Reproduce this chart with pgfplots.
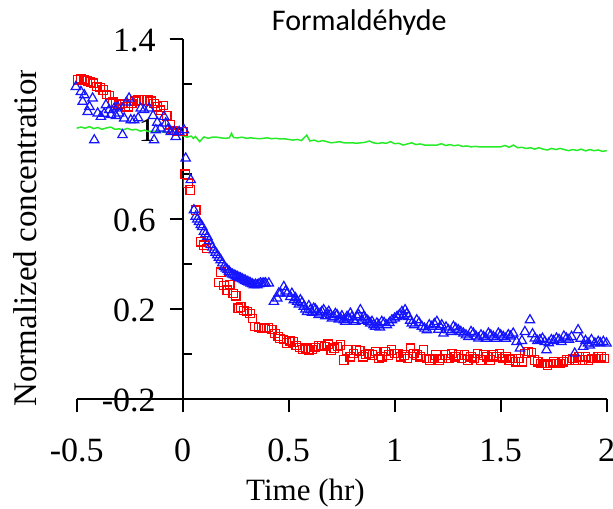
\documentclass[border=0pt]{standalone}
\usepackage{pgfplots}
\pgfplotsset{compat=1.18}
\usepackage{fontspec}
\setmainfont{Liberation Serif}
\newfontfamily\titlefont{Carlito}
\definecolor{ltgreen}{RGB}{40,235,40}
\definecolor{mkred}{RGB}{255,0,0}
\definecolor{mkblue}{RGB}{20,20,255}

\begin{document}
\begin{tikzpicture}
\begin{axis}[
  scale only axis, width=265pt, height=180pt,
  xmin=-0.5, xmax=2, ymin=-0.2, ymax=1.4,
  axis x line=bottom, axis y line=center,
  axis line style={-, line width=1pt},
  hide obscured x ticks=false, hide obscured y ticks=false,
  xtick={-0.5,0,0.5,1,1.5,2},
  xticklabels={\textrm{-0.5},\textrm{0},\textrm{0.5},\textrm{1},\textrm{1.5},\textrm{2}},
  ytick={-0.2,0.2,0.6,1,1.4},
  yticklabels={\textrm{-0.2},\textrm{0.2},\textrm{0.6},\textrm{1},\textrm{1.4}},
  minor ytick={0,0.4,0.8,1.2},
  tick align=outside, major tick length=6.5pt, minor tick length=4.5pt,
  tick style={line width=1pt, black},
  minor y tick style={xshift=4.5pt},
  ticklabel style={font=\fontsize{17}{20}\selectfont},
  xticklabel style={yshift=-10pt},
  yticklabel style={xshift=-3.5pt, yshift=-0.5pt},
  clip=false,
]
% reference (green)
\addplot[ltgreen, line width=0.75pt, no marks] coordinates {
(-0.5,1.005)(-0.48,1.01)(-0.46,1.005)(-0.44,1.012)(-0.42,1.003)(-0.40,1.008)(-0.38,1.0)(-0.36,1.006)(-0.34,1.01)(-0.32,1.0)
(-0.30,1.002)(-0.28,0.998)(-0.26,1.004)(-0.24,0.997)(-0.22,1.0)(-0.20,0.992)(-0.18,0.996)(-0.16,0.99)(-0.14,0.993)(-0.12,0.988)
(-0.10,0.99)(-0.08,0.985)(-0.06,0.98)(-0.04,0.983)(-0.02,0.975)(0,0.972)(0.02,0.965)(0.04,0.97)(0.05,0.96)(0.06,0.968)
(0.08,0.945)(0.10,0.966)(0.12,0.96)(0.14,0.965)(0.16,0.965)(0.18,0.962)(0.20,0.96)(0.22,0.962)(0.23,0.982)(0.24,0.963)
(0.26,0.962)(0.28,0.965)(0.30,0.96)(0.32,0.962)(0.34,0.96)(0.36,0.958)(0.38,0.96)(0.40,0.962)(0.42,0.958)(0.44,0.96)
(0.46,0.957)(0.48,0.958)(0.50,0.955)(0.52,0.952)(0.54,0.955)(0.56,0.95)(0.585,0.974)(0.60,0.948)(0.62,0.952)(0.64,0.945)
(0.66,0.95)(0.68,0.945)(0.70,0.94)(0.72,0.942)(0.74,0.945)(0.76,0.94)(0.78,0.94)(0.80,0.94)(0.82,0.938)(0.84,0.94)
(0.86,0.942)(0.88,0.948)(0.90,0.94)(0.92,0.937)(0.94,0.94)(0.96,0.938)(0.98,0.945)(1.0,0.936)(1.02,0.938)(1.04,0.93)
(1.06,0.935)(1.08,0.94)(1.10,0.932)(1.12,0.935)(1.14,0.93)(1.16,0.93)(1.18,0.93)(1.20,0.93)(1.22,0.936)(1.24,0.928)
(1.26,0.932)(1.28,0.927)(1.30,0.93)(1.32,0.924)(1.34,0.926)(1.36,0.922)(1.38,0.924)(1.40,0.922)(1.42,0.922)(1.44,0.922)
(1.46,0.922)(1.48,0.922)(1.50,0.922)(1.52,0.928)(1.54,0.92)(1.56,0.93)(1.58,0.918)(1.60,0.92)(1.62,0.915)(1.64,0.918)
(1.66,0.912)(1.68,0.918)(1.70,0.912)(1.72,0.908)(1.74,0.915)(1.76,0.91)(1.78,0.915)(1.80,0.91)(1.82,0.905)(1.84,0.91)
(1.86,0.906)(1.88,0.912)(1.90,0.904)(1.92,0.91)(1.94,0.905)(1.96,0.908)(1.98,0.902)(2.0,0.905)
};
% red squares
\addplot[only marks, mark=square, mark size=2.1pt, mark options={mkred, line width=0.6pt}] coordinates {
(-0.495,1.22)(-0.48,1.225)(-0.465,1.22)(-0.45,1.215)(-0.435,1.21)(-0.42,1.205)(-0.405,1.19)(-0.39,1.185)(-0.375,1.175)(-0.36,1.155)
(-0.345,1.15)(-0.33,1.12)(-0.315,1.115)(-0.30,1.11)(-0.285,1.115)(-0.27,1.10)(-0.255,1.10)(-0.24,1.115)(-0.225,1.125)(-0.21,1.13)
(-0.195,1.13)(-0.18,1.13)(-0.165,1.13)(-0.15,1.125)(-0.135,1.115)(-0.12,1.10)(-0.105,1.085)(-0.09,1.105)(-0.075,1.06)(-0.06,1.02)
(-0.045,0.995)(-0.03,0.99)(-0.015,0.99)(0.0,0.99)
(0.012,0.80)(0.025,0.76)(0.035,0.73)(0.062,0.64)(0.085,0.50)(0.10,0.485)(0.113,0.47)
(0.168,0.32)(0.18,0.365)(0.195,0.305)(0.21,0.285)(0.222,0.31)(0.238,0.27)(0.25,0.26)(0.262,0.205)
(0.274,0.21)(0.288,0.195)(0.303,0.19)(0.317,0.182)(0.33,0.16)(0.341,0.123)(0.357,0.12)(0.372,0.118)(0.388,0.115)(0.405,0.12)
(0.42,0.11)(0.435,0.093)(0.45,0.08)(0.459,0.071)(0.475,0.066)(0.49,0.05)(0.505,0.06)(0.52,0.055)(0.535,0.04)(0.55,0.03)
(0.565,0.022)(0.58,0.027)(0.595,0.02)(0.61,0.022)(0.625,0.03)(0.64,0.037)(0.655,0.04)(0.67,0.034)(0.685,0.045)(0.70,0.019)
(0.715,0.027)(0.73,0.035)(0.745,0.041)(0.76,-0.025)(0.775,0.019)(0.79,-0.011)(0.805,0.004)(0.82,0.019)(0.835,0.015)(0.85,-0.011)
(0.865,0.0)(0.88,0.004)(0.895,-0.003)(0.91,0.012)(0.925,-0.018)(0.94,-0.011)(0.955,0.012)(0.97,-0.003)(0.985,0.019)(1.0,0.004)
(1.015,0.004)(1.03,-0.011)(1.045,-0.003)(1.06,-0.018)(1.075,0.027)(1.09,0.004)(1.105,-0.003)(1.12,-0.011)(1.135,0.019)(1.15,-0.018)
(1.165,-0.025)(1.18,-0.018)(1.195,-0.003)(1.21,-0.025)(1.225,-0.018)(1.24,-0.003)(1.255,-0.018)(1.27,0.004)(1.285,-0.011)(1.3,-0.003)
(1.315,-0.018)(1.33,-0.003)(1.345,-0.025)(1.36,-0.011)(1.375,-0.018)(1.39,0.004)(1.405,-0.025)(1.42,-0.003)(1.435,-0.011)(1.45,-0.025)
(1.465,-0.003)(1.48,-0.011)(1.495,0.004)(1.51,-0.018)(1.525,-0.011)(1.54,-0.025)(1.555,-0.018)(1.57,-0.033)(1.585,-0.018)(1.6,-0.033)
(1.615,0.004)(1.63,0.012)(1.645,0.008)(1.66,-0.025)(1.675,-0.033)(1.69,-0.040)(1.705,-0.040)(1.72,-0.048)(1.735,-0.04)(1.75,-0.033)
(1.765,-0.04)(1.78,-0.04)(1.795,-0.033)(1.81,-0.025)(1.825,-0.025)(1.84,-0.018)(1.855,-0.025)(1.87,-0.011)(1.885,-0.025)(1.9,-0.011)
(1.915,-0.025)(1.93,-0.018)(1.945,-0.018)(1.96,-0.011)(1.975,-0.011)(1.99,-0.018)
};
% blue triangles
\addplot[only marks, mark=triangle, mark size=2.7pt, mark options={mkblue, line width=0.6pt}] coordinates {
(-0.504,1.189)(-0.48,1.167)(-0.472,1.123)(-0.464,1.152)(-0.448,1.078)(-0.44,1.10)(-0.425,1.138)(-0.417,0.952)(-0.401,1.071)(-0.386,1.056)
(-0.37,1.07)(-0.362,1.108)(-0.347,1.086)(-0.339,1.064)(-0.323,1.093)(-0.315,1.06)(-0.307,1.10)(-0.30,1.071)(-0.284,0.975)(-0.276,1.049)
(-0.265,1.12)(-0.253,1.138)(-0.245,1.041)(-0.229,1.041)(-0.21,1.05)(-0.198,1.093)(-0.182,1.086)(-0.159,1.093)(-0.14,1.06)(-0.135,0.952)
(-0.127,0.997)(-0.12,1.03)(-0.104,1.004)(-0.088,1.056)(-0.08,1.027)(-0.07,1.0)(-0.056,0.989)(-0.04,0.99)(-0.033,0.967)(-0.017,0.989)
(0.006,0.997)
(0.014,0.871)(0.038,0.775)(0.053,0.641)(0.061,0.612)(0.069,0.60)(0.077,0.589)(0.085,0.575)(0.092,0.567)(0.10,0.545)(0.108,0.535)
(0.116,0.523)(0.124,0.505)(0.132,0.486)(0.14,0.475)(0.147,0.463)(0.155,0.452)(0.163,0.441)(0.171,0.43)(0.179,0.419)(0.187,0.405)
(0.195,0.389)(0.203,0.382)(0.211,0.375)(0.219,0.368)(0.226,0.36)(0.234,0.355)(0.242,0.352)(0.25,0.348)(0.257,0.345)(0.265,0.341)
(0.273,0.338)(0.281,0.334)(0.289,0.33)(0.296,0.327)(0.304,0.323)(0.312,0.32)(0.32,0.316)(0.328,0.312)(0.336,0.308)(0.344,0.31)
(0.352,0.308)(0.36,0.312)(0.367,0.316)(0.375,0.314)(0.383,0.316)(0.391,0.316)(0.406,0.316)(0.43,0.234)(0.446,0.249)(0.453,0.271)
(0.461,0.271)(0.477,0.30)(0.485,0.28)(0.493,0.271)(0.508,0.256)(0.515,0.27)(0.524,0.241)(0.532,0.25)(0.54,0.234)(0.548,0.222)
(0.555,0.241)(0.563,0.23)(0.571,0.212)(0.579,0.2)(0.587,0.189)(0.595,0.215)(0.602,0.197)(0.61,0.185)(0.618,0.204)(0.626,0.2)
(0.634,0.189)(0.641,0.175)(0.649,0.182)(0.657,0.19)(0.665,0.197)(0.673,0.17)(0.681,0.182)(0.689,0.19)(0.696,0.175)(0.704,0.16)
(0.712,0.167)(0.72,0.18)(0.728,0.175)(0.736,0.155)(0.744,0.16)(0.751,0.17)(0.759,0.152)(0.767,0.145)(0.775,0.167)(0.783,0.16)
(0.791,0.182)(0.798,0.165)(0.806,0.152)(0.814,0.145)(0.822,0.167)(0.83,0.175)(0.838,0.197)(0.846,0.15)(0.853,0.167)(0.861,0.16)
(0.869,0.152)(0.877,0.145)(0.885,0.138)(0.893,0.145)(0.9,0.13)(0.908,0.123)(0.916,0.138)(0.924,0.13)(0.93,0.12)(0.939,0.145)
(0.95,0.14)(0.963,0.13)(0.975,0.14)(0.987,0.152)(1.0,0.16)(1.011,0.167)(1.022,0.175)(1.034,0.189)(1.04,0.17)(1.049,0.197)
(1.057,0.18)(1.065,0.167)(1.073,0.15)(1.081,0.138)(1.092,0.13)(1.104,0.152)(1.115,0.14)(1.128,0.123)(1.14,0.115)(1.152,0.108)
(1.163,0.13)(1.175,0.123)(1.187,0.135)(1.199,0.145)(1.206,0.11)(1.214,0.123)(1.222,0.13)(1.23,0.093)(1.242,0.12)(1.253,0.108)
(1.265,0.1)(1.277,0.123)(1.288,0.115)(1.3,0.108)(1.312,0.1)(1.324,0.093)(1.336,0.085)(1.348,0.078)(1.36,0.1)(1.371,0.093)
(1.383,0.08)(1.395,0.071)(1.407,0.085)(1.419,0.078)(1.43,0.07)(1.442,0.093)(1.453,0.085)(1.465,0.078)(1.477,0.07)(1.489,0.093)
(1.5,0.085)(1.512,0.078)(1.524,0.07)(1.536,0.086)(1.547,0.08)(1.559,0.093)(1.575,0.056)(1.591,0.027)(1.6,0.06)(1.614,0.10)
(1.638,0.152)(1.65,0.09)(1.661,0.071)(1.673,0.06)(1.685,0.064)(1.697,0.07)(1.708,0.056)(1.716,0.019)(1.727,0.05)(1.739,0.064)
(1.75,0.06)(1.763,0.071)(1.775,0.065)(1.786,0.056)(1.798,0.08)(1.81,0.071)(1.822,0.065)(1.834,0.078)(1.849,0.004)(1.865,0.108)
(1.877,0.07)(1.889,0.034)(1.9,0.06)(1.912,0.049)(1.92,0.04)(1.928,0.064)(1.944,0.049)(1.96,0.056)(1.97,0.05)(1.984,0.056)
(1.999,0.049)
};
\end{axis}
\node[font=\titlefont\fontsize{15}{18}\selectfont, anchor=base, inner sep=0pt] at (141.3pt,184.15pt) {Formaldéhyde};
\node[font=\fontsize{15.5}{18}\selectfont, anchor=base, inner sep=0pt] at (114.4pt,-50.35pt) {Time (hr)};
\begin{scope}
\clip (-38.35pt,-20pt) rectangle (0pt,164.15pt);
\node[font=\fontsize{16.5}{19}\selectfont, rotate=90, anchor=base west, inner sep=0pt] at (-20pt,-3.85pt) {Normalized concentration};
\end{scope}
\pgfresetboundingbox
\path[use as bounding box] (-38.35pt,-54.35pt) rectangle (268.15pt,199.65pt);
\end{tikzpicture}
\end{document}
